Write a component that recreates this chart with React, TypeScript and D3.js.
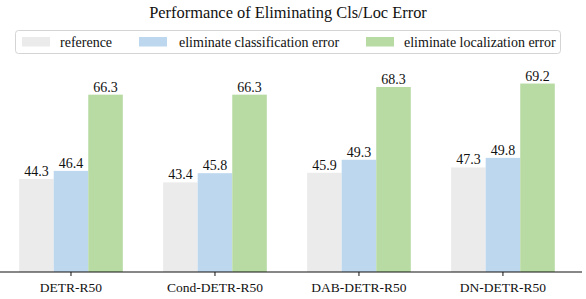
import React from "react";
import * as d3 from "d3";

const categories = ["DETR-R50", "Cond-DETR-R50", "DAB-DETR-R50", "DN-DETR-R50"];
const seriesNames = ["reference", "eliminate classification error", "eliminate localization error"];
const referenceVals = [44.3, 43.4, 45.9, 47.3];
const clsVals = [46.4, 45.8, 49.3, 49.8];
const locVals = [66.3, 66.3, 68.3, 69.2];
const colors = ["#ebebeb", "#bdd7ee", "#b7dba2"];
const title = "Performance of Eliminating Cls/Loc Error";

const W = 586;
const H = 299;
const font = "'Liberation Serif', 'Times New Roman', serif";

export default function App() {
  const series = [referenceVals, clsVals, locVals];
  const x = d3.scaleLinear().domain([-0.493, 3.549]).range([0, 582]);
  const y = d3.scaleLinear().domain([20, 75]).range([272, 272 - 55 * 3.83]);
  const bw = 0.24;
  const pxW = x(bw) - x(0);
  const legendItems = [
    { patch: 22, text: 60 },
    { patch: 139, text: 179 },
    { patch: 366, text: 404 },
  ];
  return (
    <svg
      width={W}
      height={H}
      style={{ position: "absolute", left: 0, top: 0, background: "#fff" }}
      fontFamily={font}
    >
      <text x={288} y={18} textAnchor="middle" fontSize={16.4} fill="#111">
        {title}
      </text>
      <rect x={15.5} y={30.5} width={545} height={23} rx={3} fill="#fff" stroke="#d4d4d4" strokeWidth={1} />
      {seriesNames.map((s, i) => (
        <g key={s}>
          <rect x={legendItems[i].patch} y={37} width={28} height={9.5} fill={colors[i]} />
          <text x={legendItems[i].text} y={46.5} fontSize={14} fill="#111">
            {s}
          </text>
        </g>
      ))}
      {categories.map((c, ci) => (
        <g key={c}>
          {series.map((vals, si) => {
            const cx = x(ci + (si - 1) * bw);
            const v = vals[ci];
            return (
              <g key={si}>
                <rect x={cx - pxW / 2} y={y(v)} width={pxW} height={y(20) - y(v)} fill={colors[si]} />
                <text x={cx} y={y(v) - 3} textAnchor="middle" fontSize={14} fill="#111">
                  {v.toFixed(1)}
                </text>
              </g>
            );
          })}
          <line x1={x(ci)} x2={x(ci)} y1={272} y2={276} stroke="#111" strokeWidth={1} />
          <text x={x(ci)} y={292} textAnchor="middle" fontSize={13.5} fill="#111">
            {c}
          </text>
        </g>
      ))}
      <line x1={0} x2={582} y1={272} y2={272} stroke="#111" strokeWidth={1.2} />
    </svg>
  );
}
